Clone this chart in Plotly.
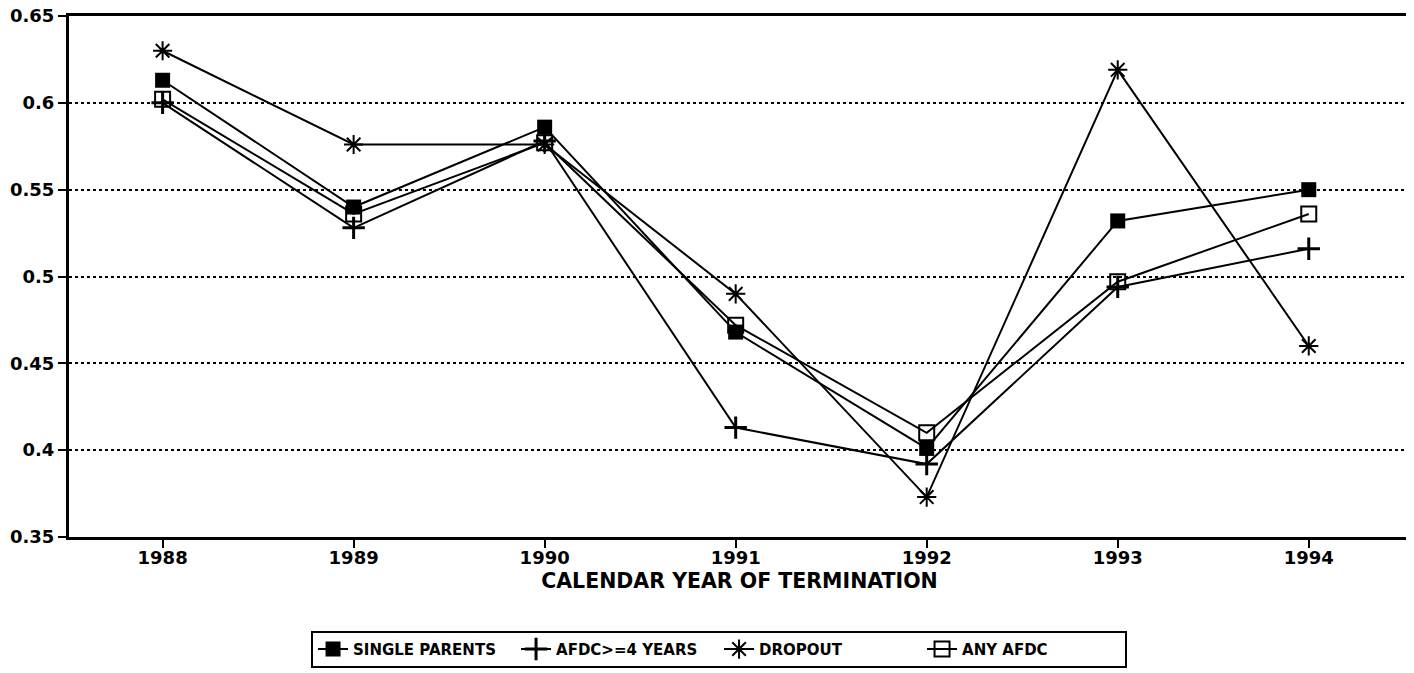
import plotly.graph_objects as go

years = [1988, 1989, 1990, 1991, 1992, 1993, 1994]
single_parents = [0.613, 0.540, 0.586, 0.468, 0.401, 0.532, 0.550]
afdc_4_years = [0.600, 0.528, 0.578, 0.413, 0.392, 0.494, 0.516]
dropout = [0.630, 0.576, 0.576, 0.490, 0.373, 0.619, 0.460]
any_afdc = [0.602, 0.536, 0.577, 0.472, 0.410, 0.497, 0.536]
y_ticks = [0.35, 0.4, 0.45, 0.5, 0.55, 0.6, 0.65]
y_tick_labels = ["0.35", "0.4", "0.45", "0.5", "0.55", "0.6", "0.65"]

series = [
    ("SINGLE PARENTS", single_parents, dict(symbol="square", size=15, color="black")),
    ("AFDC>=4 YEARS", afdc_4_years, dict(symbol="cross-thin", size=16, color="black", line=dict(width=3, color="black"))),
    ("DROPOUT", dropout, dict(symbol="asterisk-open", size=16, color="black", line=dict(width=2, color="black"))),
    ("ANY AFDC", any_afdc, dict(symbol="square-open", size=15, color="black", line=dict(width=2, color="black"))),
]

BOLD = "DejaVu Sans"

fig = go.Figure()
for name, vals, mk in series:
    fig.add_trace(go.Scatter(
        x=years, y=vals, mode="lines+markers", name=f"<b>{name}</b>",
        line=dict(color="black", width=2), marker=mk,
    ))

fig.update_layout(
    width=1414, height=673,
    margin=dict(l=61, r=12, t=8, b=144),
    paper_bgcolor="white", plot_bgcolor="white",
    font=dict(family=BOLD, color="black"),
    showlegend=True,
    legend=dict(
        orientation="h", x=0.1805, xanchor="left", y=-0.18, yanchor="top",
        bordercolor="black", borderwidth=2, bgcolor="white",
        font=dict(size=15, color="black", family=BOLD),
        entrywidth=158, entrywidthmode="pixels",
        tracegroupgap=0, itemwidth=30,
    ),
)

fig.update_xaxes(
    range=[1987.51, 1994.53], tickvals=years,
    ticktext=[f"<b>{y}</b>" for y in years],
    tickfont=dict(size=18, family=BOLD), ticks="outside", ticklen=8, tickwidth=2, tickcolor="black",
    ticklabelstandoff=-6,
    showline=True, linecolor="black", linewidth=3, mirror=True,
    showgrid=False, zeroline=False, automargin=False,
    title=dict(text="<b>CALENDAR YEAR OF TERMINATION</b>", font=dict(size=20.5, family=BOLD), standoff=8),
)
fig.update_yaxes(
    range=[0.35, 0.65], tickvals=y_ticks,
    ticktext=[f"<b>{t}</b>" for t in y_tick_labels],
    tickfont=dict(size=18, family=BOLD), ticks="outside", ticklen=8, tickwidth=2, tickcolor="black",
    showline=True, linecolor="black", linewidth=3, mirror=True,
    showgrid=True, gridcolor="black", gridwidth=1.5, griddash="dot",
    zeroline=False, automargin=False, ticklabeloverflow="allow",
)

fig.write_html("out.html")
